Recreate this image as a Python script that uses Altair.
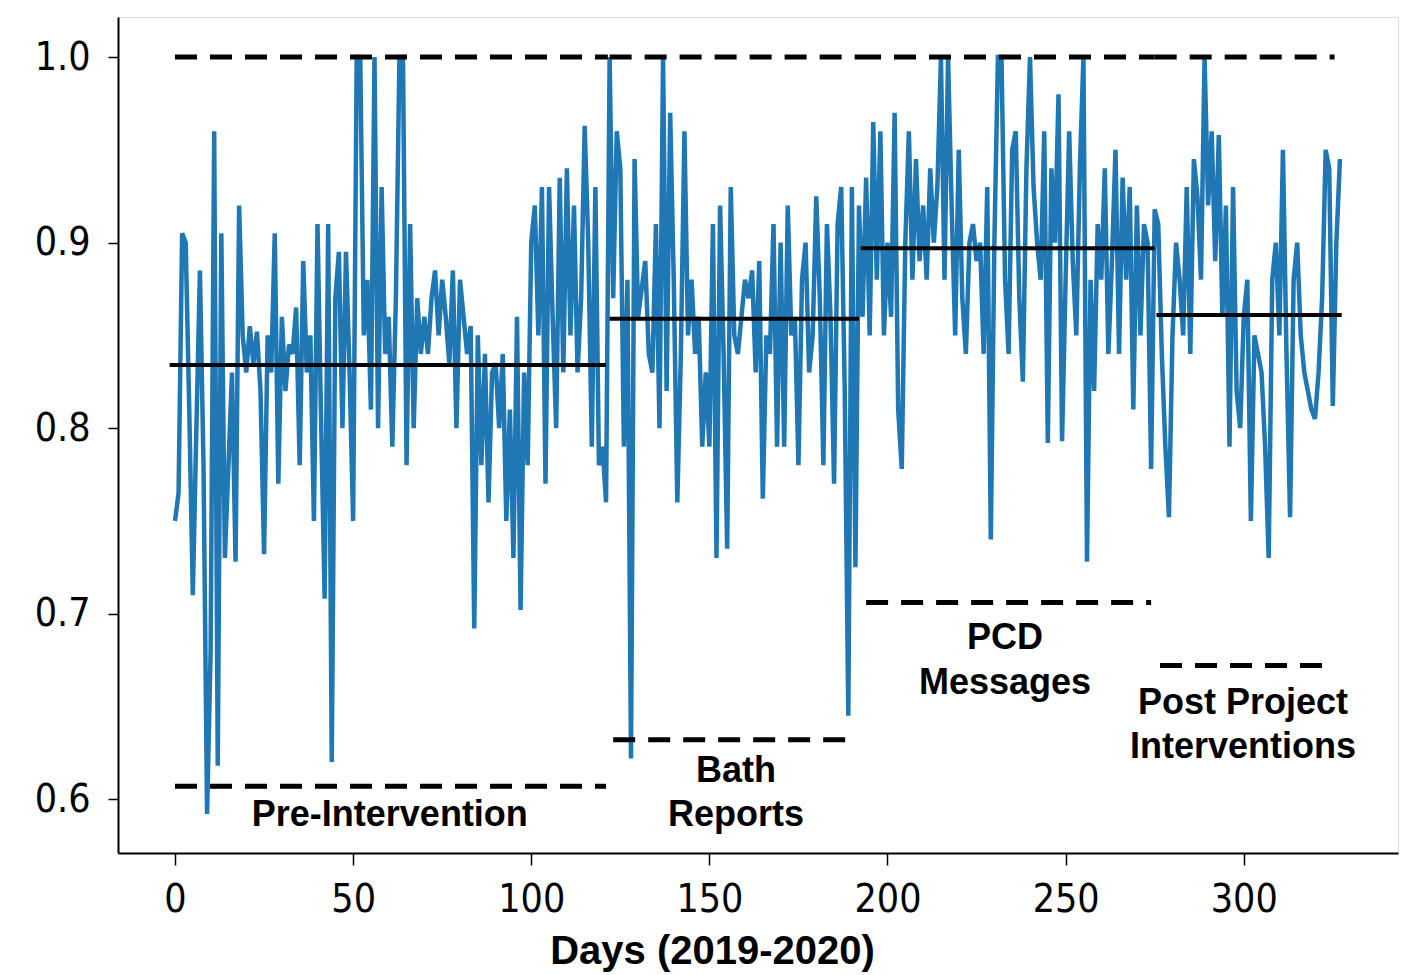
import altair as alt
import pandas as pd

# ---- data ----
values = [
    # phase 1: days 0-122
    0.750, 0.765, 0.905, 0.900, 0.810, 0.710, 0.800, 0.885, 0.780, 0.592,
    0.680, 0.960, 0.618, 0.905, 0.730, 0.780, 0.830, 0.728, 0.920, 0.850,
    0.830, 0.855, 0.835, 0.852, 0.820, 0.732, 0.850, 0.830, 0.905, 0.770,
    0.860, 0.820, 0.845, 0.840, 0.865, 0.780, 0.890, 0.830, 0.850, 0.750,
    0.910, 0.805, 0.708, 0.910, 0.620, 0.870, 0.895, 0.800, 0.895, 0.830,
    0.750, 1.000, 1.000, 0.850, 0.880, 0.810, 1.000, 0.800, 0.930, 0.840,
    0.860, 0.790, 0.870, 1.000, 1.000, 0.780, 0.910, 0.800, 0.870, 0.840,
    0.860, 0.840, 0.870, 0.885, 0.850, 0.880, 0.860, 0.835, 0.885, 0.800,
    0.880, 0.860, 0.840, 0.855, 0.692, 0.850, 0.780, 0.840, 0.760, 0.830,
    0.835, 0.800, 0.840, 0.750, 0.810, 0.730, 0.860, 0.702, 0.830, 0.780,
    0.900, 0.920, 0.850, 0.930, 0.770, 0.930, 0.860, 0.800, 0.935, 0.830,
    0.940, 0.850, 0.920, 0.830, 0.870, 0.963, 0.900, 0.790, 0.930, 0.780,
    0.790, 0.760, 1.000,
    # phase 2: days 123-191
    0.870, 0.960, 0.940, 0.790, 0.880, 0.622, 0.945,
    0.860, 0.875, 0.890, 0.840, 0.830, 0.910, 0.800, 1.000, 0.820, 0.970,
    0.880, 0.760, 0.840, 0.960, 0.850, 0.880, 0.840, 0.860, 0.790, 0.830,
    0.790, 0.910, 0.730, 0.920, 0.840, 0.735, 0.930, 0.850, 0.840, 0.860,
    0.880, 0.870, 0.885, 0.830, 0.890, 0.762, 0.850, 0.840, 0.910, 0.790,
    0.900, 0.790, 0.920, 0.850, 0.860, 0.780, 0.880, 0.900, 0.830, 0.850,
    0.925, 0.870, 0.780, 0.910, 0.860, 0.770, 0.910, 0.930, 0.820, 0.645,
    0.930, 0.725,
    # phase 3: days 192-274
    0.920, 0.860, 0.935, 0.850, 0.965, 0.880, 0.960, 0.850,
    0.900, 0.860, 0.970, 0.810, 0.778, 0.900, 0.960, 0.880, 0.945, 0.890,
    0.920, 0.880, 0.940, 0.900, 0.930, 1.000, 0.880, 1.000, 0.920, 0.850,
    0.950, 0.870, 0.840, 0.900, 0.910, 0.890, 0.900, 0.840, 0.930, 0.740,
    0.900, 1.000, 1.000, 0.880, 0.840, 0.950, 0.960, 0.870, 0.825, 0.940,
    1.000, 0.930, 0.900, 0.880, 0.960, 0.792, 0.940, 0.900, 0.980, 0.793,
    0.880, 0.960, 0.890, 0.850, 0.940, 1.000, 0.728, 0.880, 0.820, 0.910,
    0.880, 0.940, 0.840, 0.890, 0.950, 0.840, 0.935, 0.880, 0.930, 0.810,
    0.920, 0.850, 0.910, 0.900, 0.778,
    # phase 4: days 275-327
    0.918, 0.910, 0.840, 0.790, 0.752,
    0.850, 0.900, 0.880, 0.850, 0.930, 0.840, 0.945, 0.925, 0.880, 1.000,
    0.920, 0.960, 0.890, 0.958, 0.860, 0.920, 0.790, 0.930, 0.820, 0.800,
    0.860, 0.880, 0.750, 0.850, 0.840, 0.830, 0.790, 0.730, 0.880, 0.900,
    0.850, 0.950, 0.840, 0.752, 0.880, 0.900, 0.850, 0.830, 0.820, 0.810,
    0.805, 0.830, 0.870, 0.950, 0.940, 0.812, 0.900, 0.945,
]
days = list(range(len(values)))

mean_start = [-1.5, 122, 192.5, 275.5]
mean_end = [121, 192, 275, 327.5]
mean_val = [0.834, 0.859, 0.897, 0.861]

low_start = [0, 123, 194, 276.5]
low_end = [121, 191, 274, 325.5]
low_val = [0.607, 0.632, 0.706, 0.672]

up_start = [0, 122, 192, 275]
up_end = [121.5, 192, 275, 325.5]
up_val = [1.0, 1.0, 1.0, 1.0]

label_text = ["Pre-Intervention", "Bath", "Reports", "PCD", "Messages",
              "Post Project", "Interventions"]
label_x = [60.3, 157.5, 157.5, 233, 233, 299.8, 299.8]
label_y = [0.5914, 0.615, 0.5914, 0.687, 0.6625, 0.652, 0.628]

x_ticks = [0, 50, 100, 150, 200, 250, 300]
y_ticks = [0.6, 0.7, 0.8, 0.9, 1.0]

# ---- chart ----
series = pd.DataFrame({"day": days, "value": values})
means = pd.DataFrame({"x": mean_start, "x2": mean_end, "y": mean_val})
lows = pd.DataFrame({"x": low_start, "x2": low_end, "y": low_val})
ups = pd.DataFrame({"x": up_start, "x2": up_end, "y": up_val})
labels = pd.DataFrame({"t": label_text, "x": label_x, "y": label_y})

tick_font = "DejaVu Sans Condensed, DejaVu Sans"
xscale = alt.Scale(domain=[-16, 343.3], nice=False, zero=False)
yscale = alt.Scale(domain=[0.571, 1.0216], nice=False, zero=False)

xaxis = alt.Axis(values=x_ticks, title="Days (2019-2020)", grid=False,
                 labelFont=tick_font, labelFontSize=39, labelColor="black",
                 labelPadding=15, tickSize=12, tickWidth=1.5, tickColor="black",
                 domainColor="black", domainWidth=2,
                 titleFont="Liberation Sans", titleFontSize=40,
                 titleFontWeight="bold", titleColor="black", titlePadding=12,
                 titleX=594, titleAlign="center", titleAnchor="start")
yaxis = alt.Axis(values=y_ticks, title=None, grid=False, format=".1f",
                 labelFont=tick_font, labelFontSize=39, labelColor="black",
                 labelPadding=18, tickSize=10, tickWidth=1.5, tickColor="black",
                 domainColor="black", domainWidth=2)

line = alt.Chart(series).mark_line(color="#1f77b4", strokeWidth=4.5).encode(
    x=alt.X("day:Q", scale=xscale, axis=xaxis),
    y=alt.Y("value:Q", scale=yscale, axis=yaxis),
)

mean_rules = alt.Chart(means).mark_rule(color="black", strokeWidth=4).encode(
    x=alt.X("x:Q", scale=xscale), x2="x2:Q", y=alt.Y("y:Q", scale=yscale))
low_rules = alt.Chart(lows).mark_rule(color="black", strokeWidth=5,
                                      strokeDash=[22, 13]).encode(
    x=alt.X("x:Q", scale=xscale), x2="x2:Q", y=alt.Y("y:Q", scale=yscale))
up_rules = alt.Chart(ups).mark_rule(color="black", strokeWidth=5,
                                    strokeDash=[22, 13]).encode(
    x=alt.X("x:Q", scale=xscale), x2="x2:Q", y=alt.Y("y:Q", scale=yscale))

texts = alt.Chart(labels).mark_text(font="Liberation Sans", fontWeight="bold",
                                    fontSize=36, color="black", align="center",
                                    baseline="middle").encode(
    x=alt.X("x:Q", scale=xscale), y=alt.Y("y:Q", scale=yscale), text="t:N")

chart = alt.layer(line, mean_rules, low_rules, up_rules, texts).properties(
    width=1280, height=836,
    autosize=alt.AutoSizeParams(type="none"),
    padding={"left": 110, "top": 9, "right": 2, "bottom": 120},
).configure_view(stroke="black", strokeWidth=2.5).configure(background="white")

chart.save("out.html", embed_options={"renderer": "svg", "actions": False})
